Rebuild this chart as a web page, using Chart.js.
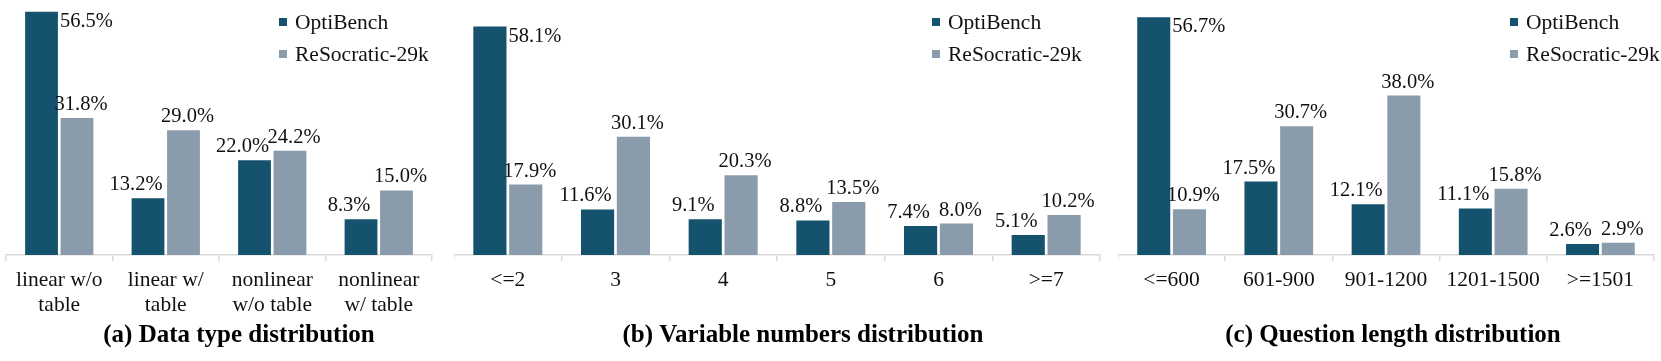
<!DOCTYPE html>
<html>
<head>
<meta charset="utf-8">
<script src="https://cdn.jsdelivr.net/npm/chart.js@4.4.1/dist/chart.umd.min.js"></script>
<style>
  html, body { margin: 0; padding: 0; background: #ffffff; overflow: hidden; }
  body { width: 1661px; height: 361px; position: relative; }
  canvas { position: absolute; top: 0; }
</style>
</head>
<body>
<canvas id="chartA" width="472" height="361" style="left:0px"></canvas>
<canvas id="chartB" width="698" height="361" style="left:454px"></canvas>
<canvas id="chartC" width="550" height="361" style="left:1118px"></canvas>
<script>
const seriesNames = ["OptiBench", "ReSocratic-29k"]

// (a) data type
const typeCategories = [["linear w/o", "table"], ["linear w/", "table"], ["nonlinear", "w/o table"], ["nonlinear", "w/ table"]]
const typeOptiBench = [56.5, 13.2, 22.0, 8.3]
const typeReSocratic = [31.8, 29.0, 24.2, 15.0]

// (b) variable numbers
const varCategories = ["<=2", "3", "4", "5", "6", ">=7"]
const varOptiBench = [58.1, 11.6, 9.1, 8.8, 7.4, 5.1]
const varReSocratic = [17.9, 30.1, 20.3, 13.5, 8.0, 10.2]

// (c) question length
const lenCategories = ["<=600", "601-900", "901-1200", "1201-1500", ">=1501"]
const lenOptiBench = [56.7, 17.5, 12.1, 11.1, 2.6]
const lenReSocratic = [10.9, 30.7, 38.0, 15.8, 2.9]

const darkColor = "#15526e"
const greyColor = "#8a9bac"
const axisColor = "#d9d9d9"
const serif = "'Liberation Serif', 'Times New Roman', serif"

// value labels above bars, tallest OptiBench bar gets it on the right of its top
const valueLabels = {
  id: "valueLabels",
  afterDatasetsDraw(chart) {
    const ctx = chart.ctx
    ctx.save()
    ctx.font = "20.5px " + serif
    ctx.fillStyle = "#111111"
    ctx.textBaseline = "alphabetic"
    chart.data.datasets.forEach((ds, di) => {
      const meta = chart.getDatasetMeta(di)
      const peak = Math.max(...ds.data)
      meta.data.forEach((bar, i) => {
        const text = ds.data[i].toFixed(1) + "%"
        if (di === 0 && ds.data[i] === peak) {
          ctx.textAlign = "left"
          ctx.fillText(text, bar.x + bar.width / 2 + 2, bar.y + 15)
        } else {
          ctx.textAlign = "center"
          const shift = di === 0 ? -12 : 4
          ctx.fillText(text, bar.x + shift, bar.y - 8)
        }
      })
    })
    ctx.restore()
  },
}

// stacked legend placed inside the plot area
const sideLegend = {
  id: "sideLegend",
  afterDraw(chart, args, opts) {
    const ctx = chart.ctx
    const left = chart.chartArea.left + opts.x
    ctx.save()
    ctx.font = "21.5px " + serif
    ctx.textBaseline = "middle"
    ctx.textAlign = "left"
    chart.data.datasets.forEach((ds, i) => {
      const cy = 22 + i * 32
      ctx.fillStyle = ds.backgroundColor
      ctx.fillRect(left, cy - 4, 8, 8)
      ctx.fillStyle = "#111111"
      ctx.fillText(ds.label, left + 16, cy + 1)
    })
    ctx.restore()
  },
}

function makeChart(id, categories, opti, reso, yMax, rightGap, padLeft, legendX, title) {
  return new Chart(document.getElementById(id), {
    type: "bar",
    data: {
      labels: categories,
      datasets: [
        { label: seriesNames[0], data: opti, backgroundColor: darkColor },
        { label: seriesNames[1], data: reso, backgroundColor: greyColor },
      ],
    },
    options: {
      responsive: false,
      animation: false,
      devicePixelRatio: 1,
      layout: { padding: { top: 10, left: padLeft, right: 0, bottom: 0 } },
      datasets: {
        bar: { categoryPercentage: 0.666, barPercentage: 0.925, borderWidth: 0 },
      },
      scales: {
        x: {
          grid: { display: true, drawOnChartArea: false, drawTicks: true, tickLength: 6, color: axisColor, lineWidth: 1.5 },
          border: { display: true, color: axisColor, width: 1.5 },
          ticks: { color: "#111111", padding: 6.5, maxRotation: 0, autoSkip: false, font: { family: serif, size: 21.5, lineHeight: 1.163 } },
          afterFit(scale) {
            scale.height = 66
          },
        },
        y: {
          position: "right",
          min: 0,
          max: yMax,
          grid: { display: false },
          border: { display: false },
          ticks: { display: false },
          afterFit(scale) {
            scale.width = rightGap
          },
        },
      },
      plugins: {
        legend: { display: false },
        tooltip: { enabled: false },
        title: {
          display: true,
          text: title,
          position: "bottom",
          color: "#000000",
          padding: { top: 0, bottom: 10 },
          font: { family: serif, size: 25, weight: "bold", lineHeight: 1.2 },
        },
        sideLegend: { x: legendX },
      },
    },
    plugins: [valueLabels, sideLegend],
  })
}

makeChart("chartA", typeCategories, typeOptiBench, typeReSocratic, 56.9, 40, 6, 273, "(a) Data type distribution")
makeChart("chartB", varCategories, varOptiBench, varReSocratic, 62.3, 52, 0, 478, "(b) Variable numbers distribution")
makeChart("chartC", lenCategories, lenOptiBench, lenReSocratic, 58.4, 14, 0, 392, "(c) Question length distribution")
</script>
</body>
</html>
